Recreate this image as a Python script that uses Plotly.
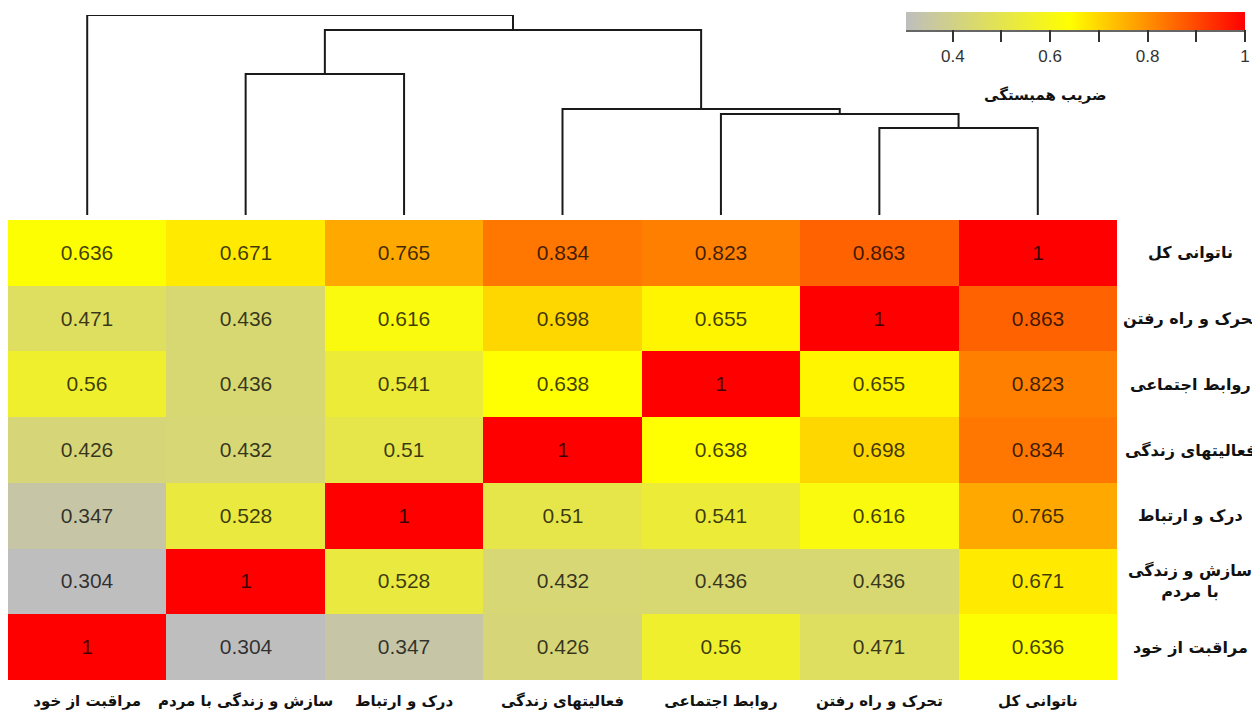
import plotly.graph_objects as go

# ---------------- data ----------------
col_labels = ["مراقبت از خود", "سازش و زندگی با مردم", "درک و ارتباط",
              "فعالیتهای زندگی", "روابط اجتماعی", "تحرک و راه رفتن", "ناتوانی کل"]
row_labels = ["ناتوانی کل", "تحرک و راه رفتن", "روابط اجتماعی", "فعالیتهای زندگی",
              "درک و ارتباط", "سازش و زندگی<br>با مردم", "مراقبت از خود"]

row_total    = [0.636, 0.671, 0.765, 0.834, 0.823, 0.863, 1]
row_mobility = [0.471, 0.436, 0.616, 0.698, 0.655, 1, 0.863]
row_social   = [0.56, 0.436, 0.541, 0.638, 1, 0.655, 0.823]
row_life     = [0.426, 0.432, 0.51, 1, 0.638, 0.698, 0.834]
row_comm     = [0.347, 0.528, 1, 0.51, 0.541, 0.616, 0.765]
row_getting  = [0.304, 1, 0.528, 0.432, 0.436, 0.436, 0.671]
row_selfcare = [1, 0.304, 0.347, 0.426, 0.56, 0.471, 0.636]

# dendrogram merges: (left child, right child, height); leaves are column indices,
# "m<k>" refers to the k-th merge
merges = [
    (5, 6, 0.87),
    (4, "m0", 1.01),
    (3, "m1", 1.06),
    (1, 2, 1.41),
    ("m3", "m2", 1.85),
    (0, "m4", 2.00),
]

cbar_ticks = [0.4, 0.5, 0.6, 0.7, 0.8, 0.9, 1.0]
cbar_ticktext = ["0.4", "", "0.6", "", "0.8", "", "1"]
cbar_title = "ضریب همبستگی"

# ---------------- figure ----------------
z = [row_total, row_mobility, row_social, row_life, row_comm, row_getting, row_selfcare]
text = [[f"{v:g}" for v in r] for r in z]
n = len(col_labels)

colorscale = [[0.0, "#BEBEBE"], [0.483, "#FFFF00"], [0.67, "#FFA500"], [1.0, "#FF0000"]]

W, H = 1252, 705          # page body adds an 8px offset
PLOT_W, PLOT_H = 1109, 672

fig = go.Figure()

fig.add_trace(go.Heatmap(
    z=z, x=list(range(n)), y=list(range(n)),
    text=text, texttemplate="%{text}",
    textfont=dict(family="Liberation Sans, Arial", size=21, color="rgba(0,0,0,0.75)"),
    colorscale=colorscale, zmin=min(min(r) for r in z), zmax=1,
    hoverinfo="skip",
    colorbar=dict(
        orientation="h", lenmode="pixels", len=339, thickness=18,
        x=1067.5 / PLOT_W, xanchor="center", y=1 - 4 / PLOT_H, yanchor="top",
        outlinewidth=0, xpad=0, ypad=0,
        tickvals=cbar_ticks, ticktext=cbar_ticktext,
        ticks="outside", ticklen=12, tickwidth=1.5, tickcolor="#333333",
        tickfont=dict(family="Liberation Sans, Arial", size=17, color="#333333"),
    ),
    xaxis="x", yaxis="y",
))

# dendrogram lines
pos = {}
hgt = {}
for i in range(n):
    pos[i] = i
    hgt[i] = 0.0
xs, ys = [], []
for k, (a, b, h) in enumerate(merges):
    xa, xb = pos[a], pos[b]
    xs += [xa, xa, xb, xb, None]
    ys += [hgt[a], h, h, hgt[b], None]
    key = f"m{k}"
    pos[key] = (xa + xb) / 2
    hgt[key] = h

fig.add_trace(go.Scatter(
    x=xs, y=ys, mode="lines",
    line=dict(color="#1a1a1a", width=2),
    hoverinfo="skip", showlegend=False,
    xaxis="x2", yaxis="y2",
))

x_font = dict(family="DejaVu Sans", size=15, color="#111111", weight="bold")
row_font = dict(family="DejaVu Sans", size=16, color="#111111")

row_annotations = [
    dict(text=f"<b>{lab}</b>", xref="paper", yref="y", x=1182 / PLOT_W, y=i,
         xanchor="center", yanchor="middle", showarrow=False, font=row_font, align="center")
    for i, lab in enumerate(row_labels)
]

fig.update_layout(
    width=W, height=H,
    margin=dict(l=0, r=W - PLOT_W, t=0, b=H - PLOT_H, autoexpand=False),
    paper_bgcolor="white", plot_bgcolor="white",
    showlegend=False,
    xaxis=dict(domain=[0, 1], range=[-0.5, n - 0.5], tickvals=list(range(n)),
               ticktext=col_labels, tickfont=x_font, ticks="", showgrid=False,
               ticklabelstandoff=10,
               zeroline=False, showline=False, automargin=False),
    yaxis=dict(domain=[0, (PLOT_H - 212) / PLOT_H], range=[n - 0.5, -0.5],
               showticklabels=False, ticks="", showgrid=False, zeroline=False,
               showline=False, automargin=False),
    xaxis2=dict(domain=[0, 1], range=[-0.5, n - 0.5], anchor="y2", visible=False),
    yaxis2=dict(domain=[(PLOT_H - 207) / PLOT_H, (PLOT_H - 7) / PLOT_H],
                range=[0, max(m[2] for m in merges)],
                anchor="x2", visible=False),
    shapes=[dict(type="line", xref="paper", yref="paper", layer="above",
                 x0=898 / PLOT_W, x1=1237 / PLOT_W,
                 y0=1 - 23 / PLOT_H, y1=1 - 23 / PLOT_H,
                 line=dict(color="#333333", width=1.5))],
    annotations=row_annotations + [
        dict(text=f"<b>{cbar_title}</b>", xref="paper", yref="paper",
             x=1037 / PLOT_W, y=1 - 87 / PLOT_H,
             xanchor="center", yanchor="middle", showarrow=False,
             font=dict(family="DejaVu Sans", size=15, color="#111111"))],
)

fig.write_html("out.html")
